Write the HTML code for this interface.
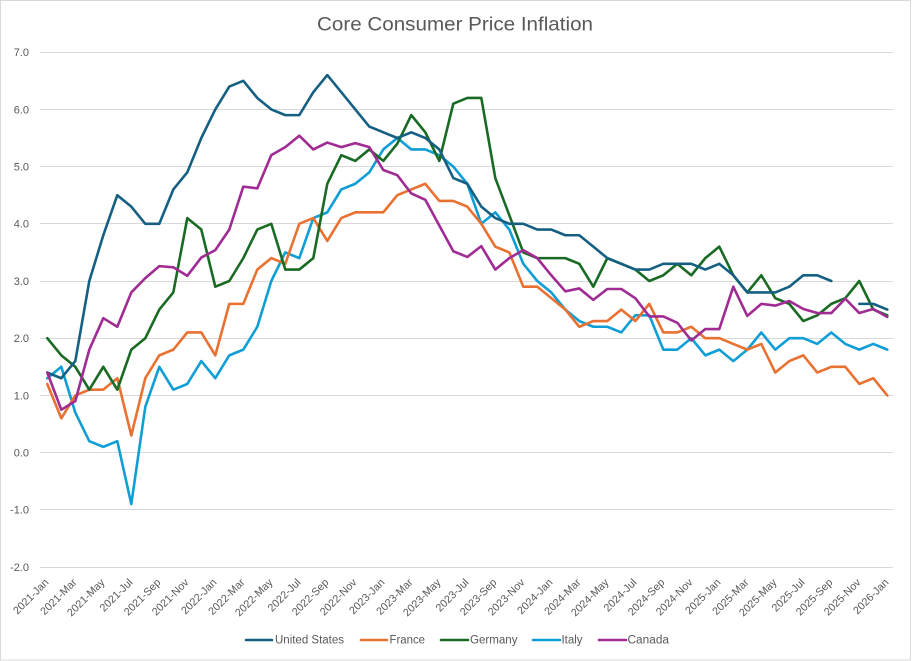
<!DOCTYPE html>
<html>
<head>
<meta charset="utf-8">
<style>
  html,body{margin:0;padding:0;background:#fff;}
  svg{display:block;}
  text{font-family:"Liberation Sans",Arial,sans-serif;fill:#595959;}
</style>
</head>
<body>
<svg width="912" height="661" viewBox="0 0 912 661" xmlns="http://www.w3.org/2000/svg">
  <rect x="0" y="0" width="912" height="661" fill="#fff"/>
  <rect x="0.5" y="0.5" width="910" height="659.5" fill="none" stroke="#d9d9d9" stroke-width="1"/>

  <!-- Title -->
  <text x="455" y="30.5" font-size="19.5" text-anchor="middle" textLength="276" lengthAdjust="spacingAndGlyphs">Core Consumer Price Inflation</text>

  <!-- Gridlines -->
  <g stroke="#d9d9d9" stroke-width="1">
    <line x1="40" y1="52.5" x2="893" y2="52.5"/>
    <line x1="40" y1="109.5" x2="893" y2="109.5"/>
    <line x1="40" y1="166.5" x2="893" y2="166.5"/>
    <line x1="40" y1="223.5" x2="893" y2="223.5"/>
    <line x1="40" y1="281.5" x2="893" y2="281.5"/>
    <line x1="40" y1="338.5" x2="893" y2="338.5"/>
    <line x1="40" y1="395.5" x2="893" y2="395.5"/>
    <line x1="40" y1="452.5" x2="893" y2="452.5"/>
    <line x1="40" y1="509.5" x2="893" y2="509.5"/>
    <line x1="40" y1="567.5" x2="893" y2="567.5"/>
  </g>

  <!-- Y labels -->
  <g font-size="11" text-anchor="end">
    <text x="29" y="56.2">7.0</text>
    <text x="29" y="113.3">6.0</text>
    <text x="29" y="170.5">5.0</text>
    <text x="29" y="227.7">4.0</text>
    <text x="29" y="284.9">3.0</text>
    <text x="29" y="342.1">2.0</text>
    <text x="29" y="399.3">1.0</text>
    <text x="29" y="456.5">0.0</text>
    <text x="29" y="513.7">-1.0</text>
    <text x="29" y="570.9">-2.0</text>
  </g>

  <!-- X labels -->
  <g font-size="10.8" text-anchor="end">
    <text transform="translate(49.3,583) rotate(-45)">2021-Jan</text>
    <text transform="translate(77.3,583) rotate(-45)">2021-Mar</text>
    <text transform="translate(105.3,583) rotate(-45)">2021-May</text>
    <text transform="translate(133.3,583) rotate(-45)">2021-Jul</text>
    <text transform="translate(161.3,583) rotate(-45)">2021-Sep</text>
    <text transform="translate(189.3,583) rotate(-45)">2021-Nov</text>
    <text transform="translate(217.3,583) rotate(-45)">2022-Jan</text>
    <text transform="translate(245.3,583) rotate(-45)">2022-Mar</text>
    <text transform="translate(273.3,583) rotate(-45)">2022-May</text>
    <text transform="translate(301.3,583) rotate(-45)">2022-Jul</text>
    <text transform="translate(329.3,583) rotate(-45)">2022-Sep</text>
    <text transform="translate(357.3,583) rotate(-45)">2022-Nov</text>
    <text transform="translate(385.3,583) rotate(-45)">2023-Jan</text>
    <text transform="translate(413.3,583) rotate(-45)">2023-Mar</text>
    <text transform="translate(441.3,583) rotate(-45)">2023-May</text>
    <text transform="translate(469.3,583) rotate(-45)">2023-Jul</text>
    <text transform="translate(497.3,583) rotate(-45)">2023-Sep</text>
    <text transform="translate(525.3,583) rotate(-45)">2023-Nov</text>
    <text transform="translate(553.3,583) rotate(-45)">2024-Jan</text>
    <text transform="translate(581.3,583) rotate(-45)">2024-Mar</text>
    <text transform="translate(609.3,583) rotate(-45)">2024-May</text>
    <text transform="translate(637.3,583) rotate(-45)">2024-Jul</text>
    <text transform="translate(665.3,583) rotate(-45)">2024-Sep</text>
    <text transform="translate(693.3,583) rotate(-45)">2024-Nov</text>
    <text transform="translate(721.3,583) rotate(-45)">2025-Jan</text>
    <text transform="translate(749.3,583) rotate(-45)">2025-Mar</text>
    <text transform="translate(777.3,583) rotate(-45)">2025-May</text>
    <text transform="translate(805.3,583) rotate(-45)">2025-Jul</text>
    <text transform="translate(833.3,583) rotate(-45)">2025-Sep</text>
    <text transform="translate(861.3,583) rotate(-45)">2025-Nov</text>
    <text transform="translate(889.3,583) rotate(-45)">2026-Jan</text>
  </g>

  <!-- Series -->
  <g transform="matrix(14 0 0 -57.2 47.3 452.6)" fill="none" stroke-width="2.6" stroke-linejoin="round" stroke-linecap="round">
    <!-- Italy -->
    <polyline vector-effect="non-scaling-stroke" stroke="#0F9ED5" points="0,1.3 1,1.5 2,0.7 3,0.2 4,0.1 5,0.2 6,-0.9 7,0.8 8,1.5 9,1.1 10,1.2 11,1.6 12,1.3 13,1.7 14,1.8 15,2.2 16,3.0 17,3.5 18,3.4 19,4.1 20,4.2 21,4.6 22,4.7 23,4.9 24,5.3 25,5.5 26,5.3 27,5.3 28,5.2 29,5.0 30,4.7 31,4.0 32,4.2 33,3.9 34,3.3 35,3.0 36,2.8 37,2.5 38,2.3 39,2.2 40,2.2 41,2.1 42,2.4 43,2.4 44,1.8 45,1.8 46,2.0 47,1.7 48,1.8 49,1.6 50,1.8 51,2.1 52,1.8 53,2.0 54,2.0 55,1.9 56,2.1 57,1.9 58,1.8 59,1.9 60,1.8"/>
    <!-- France -->
    <polyline vector-effect="non-scaling-stroke" stroke="#E97132" points="0,1.2 1,0.6 2,1.0 3,1.1 4,1.1 5,1.3 6,0.3 7,1.3 8,1.7 9,1.8 10,2.1 11,2.1 12,1.7 13,2.6 14,2.6 15,3.2 16,3.4 17,3.3 18,4.0 19,4.1 20,3.7 21,4.1 22,4.2 23,4.2 24,4.2 25,4.5 26,4.6 27,4.7 28,4.4 29,4.4 30,4.3 31,4.0 32,3.6 33,3.5 34,2.9 35,2.9 36,2.7 37,2.5 38,2.2 39,2.3 40,2.3 41,2.5 42,2.3 43,2.6 44,2.1 45,2.1 46,2.2 47,2.0 48,2.0 49,1.9 50,1.8 51,1.9 52,1.4 53,1.6 54,1.7 55,1.4 56,1.5 57,1.5 58,1.2 59,1.3 60,1.0"/>
    <!-- Germany -->
    <polyline vector-effect="non-scaling-stroke" stroke="#196B24" points="0,2.0 1,1.7 2,1.5 3,1.1 4,1.5 5,1.1 6,1.8 7,2.0 8,2.5 9,2.8 10,4.1 11,3.9 12,2.9 13,3.0 14,3.4 15,3.9 16,4.0 17,3.2 18,3.2 19,3.4 20,4.7 21,5.2 22,5.1 23,5.3 24,5.1 25,5.4 26,5.9 27,5.6 28,5.1 29,6.1 30,6.2 31,6.2 32,4.8 33,4.15 34,3.5 35,3.4 36,3.4 37,3.4 38,3.3 39,2.9 40,3.4 41,3.3 42,3.2 43,3.0 44,3.1 45,3.3 46,3.1 47,3.4 48,3.6 49,3.1 50,2.8 51,3.1 52,2.7 53,2.6 54,2.3 55,2.4 56,2.6 57,2.7 58,3.0 59,2.5 60,2.4"/>
    <!-- United States -->
    <polyline vector-effect="non-scaling-stroke" stroke="#156082" points="0,1.4 1,1.3 2,1.6 3,3.0 4,3.8 5,4.5 6,4.3 7,4.0 8,4.0 9,4.6 10,4.9 11,5.5 12,6.0 13,6.4 14,6.5 15,6.2 16,6.0 17,5.9 18,5.9 19,6.3 20,6.6 21,6.3 22,6.0 23,5.7 24,5.6 25,5.5 26,5.6 27,5.5 28,5.3 29,4.8 30,4.7 31,4.3 32,4.1 33,4.0 34,4.0 35,3.9 36,3.9 37,3.8 38,3.8 39,3.6 40,3.4 41,3.3 42,3.2 43,3.2 44,3.3 45,3.3 46,3.3 47,3.2 48,3.3 49,3.1 50,2.8 51,2.8 52,2.8 53,2.9 54,3.1 55,3.1 56,3.0"/>
    <polyline vector-effect="non-scaling-stroke" stroke="#156082" points="58,2.6 59,2.6 60,2.5"/>
    <!-- Canada -->
    <polyline vector-effect="non-scaling-stroke" stroke="#A02B93" points="0,1.4 1,0.75 2,0.9 3,1.8 4,2.35 5,2.2 6,2.8 7,3.05 8,3.26 9,3.24 10,3.09 11,3.41 12,3.54 13,3.9 14,4.65 15,4.62 16,5.2 17,5.34 18,5.54 19,5.3 20,5.42 21,5.34 22,5.41 23,5.34 24,4.94 25,4.85 26,4.53 27,4.42 28,3.97 29,3.52 30,3.42 31,3.61 32,3.2 33,3.4 34,3.54 35,3.4 36,3.1 37,2.82 38,2.87 39,2.67 40,2.86 41,2.86 42,2.7 43,2.38 44,2.38 45,2.27 46,1.96 47,2.16 48,2.16 49,2.9 50,2.39 51,2.6 52,2.57 53,2.65 54,2.51 55,2.44 56,2.44 57,2.69 58,2.44 59,2.51 60,2.37"/>
  </g>

  <!-- Legend -->
  <g stroke-width="2.6" stroke-linecap="round">
    <line x1="246" y1="640" x2="272" y2="640" stroke="#156082"/>
    <line x1="361" y1="640" x2="387" y2="640" stroke="#E97132"/>
    <line x1="441" y1="640" x2="468" y2="640" stroke="#196B24"/>
    <line x1="533" y1="640" x2="560" y2="640" stroke="#0F9ED5"/>
    <line x1="599" y1="640" x2="626" y2="640" stroke="#A02B93"/>
  </g>
  <g font-size="11.5">
    <text x="275" y="643.5" textLength="69" lengthAdjust="spacingAndGlyphs">United States</text>
    <text x="389.5" y="643.5" textLength="35.5" lengthAdjust="spacingAndGlyphs">France</text>
    <text x="470" y="643.5" textLength="47.5" lengthAdjust="spacingAndGlyphs">Germany</text>
    <text x="561.5" y="643.5" textLength="21" lengthAdjust="spacingAndGlyphs">Italy</text>
    <text x="627.5" y="643.5" textLength="41.5" lengthAdjust="spacingAndGlyphs">Canada</text>
  </g>
</svg>
</body>
</html>
